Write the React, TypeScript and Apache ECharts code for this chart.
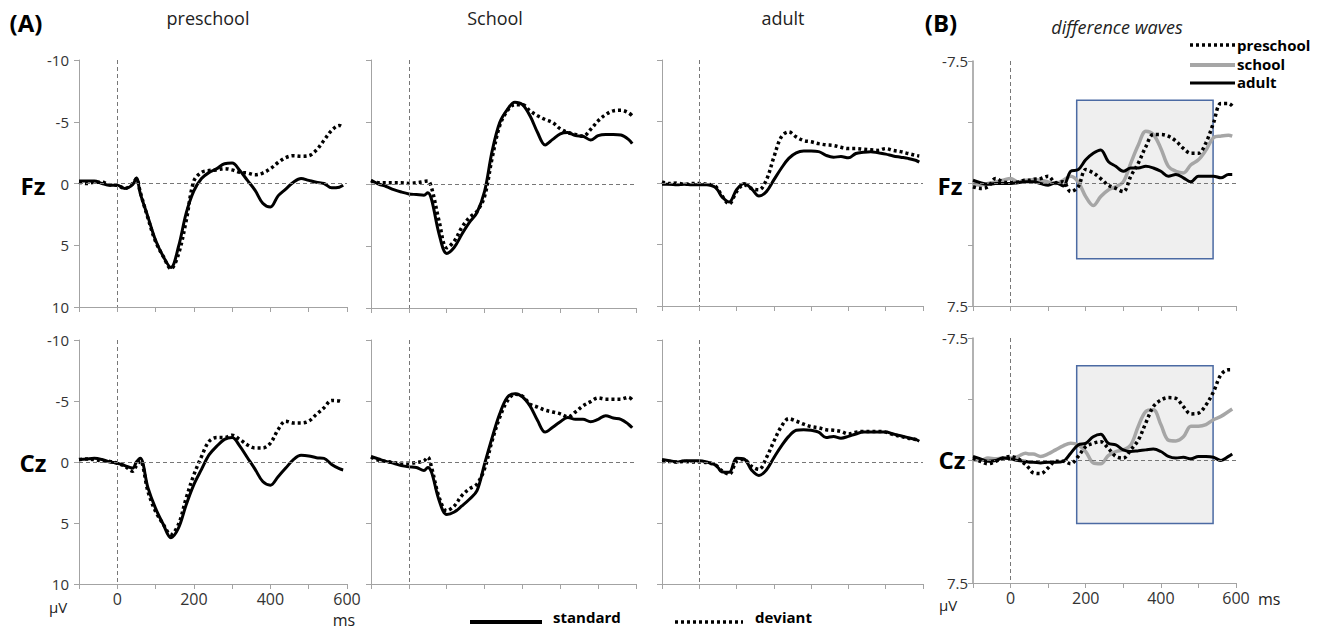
import React, { useEffect, useRef } from "react";
import * as echarts from "echarts";

// ---------- DATA (µV, negative plotted upward) ----------
const times = [-100, -80, -60, -40, -20, 0, 20, 40, 50, 60, 80, 100, 120, 140, 160, 180, 200, 220, 240, 260, 280, 300, 320, 340, 360, 380, 400, 420, 440, 460, 480, 500, 520, 540, 560, 580, 590];

const fzPreStd = [-0.2, -0.2, -0.2, 0.0, 0.15, 0.15, 0.4, 0.1, -0.45, 0.8, 2.7, 4.6, 5.9, 6.8, 5.1, 2.4, 0.6, -0.4, -0.9, -1.2, -1.6, -1.65, -1.05, -0.25, 0.55, 1.6, 1.9, 1.0, 0.45, -0.1, -0.4, -0.25, -0.1, 0, 0.35, 0.3, 0.15];
const fzPreDev = [-0.1, 0, -0.1, -0.1, 0.1, 0.15, 0.4, 0.0, -0.4, 0.7, 2.8, 4.7, 5.9, 6.9, 5.7, 3.0, -0.2, -0.9, -1.05, -1.1, -1.2, -1.1, -0.9, -0.85, -0.7, -0.85, -1.2, -1.7, -2.1, -2.25, -2.2, -2.25, -2.7, -3.5, -4.3, -4.7, -4.55];
const fzSchStd = [-0.3, 0, 0.2, 0.45, 0.65, 0.8, 0.85, 0.9, 0.7, 1.25, 4.05, 5.6, 5.1, 4.05, 3.1, 2.3, 0.6, -2.65, -4.95, -6.0, -6.6, -6.4, -5.5, -4.15, -3.15, -3.6, -4.05, -4.15, -3.9, -3.85, -3.55, -3.9, -4.0, -4.0, -3.95, -3.6, -3.25];
const fzSchDev = [-0.25, -0.1, -0.1, -0.1, -0.1, -0.05, -0.1, -0.2, -0.25, 0.3, 3.0, 5.15, 4.6, 3.5, 2.7, 2.2, 1.0, -2.1, -4.7, -5.9, -6.4, -6.4, -5.9, -5.5, -5.2, -4.95, -4.45, -4.15, -4.0, -3.85, -4.4, -5.1, -5.6, -5.9, -5.95, -5.75, -5.5];
const fzAduStd = [0.1, 0.1, 0.15, 0.1, 0.15, 0.15, 0.15, 0.3, 0.6, 1.1, 1.55, 0.55, 0.05, 0.45, 1.05, 0.7, -0.25, -1.2, -2.0, -2.45, -2.6, -2.6, -2.55, -2.25, -2.1, -2.15, -2.05, -2.4, -2.5, -2.55, -2.45, -2.35, -2.2, -2.1, -2.0, -1.85, -1.7];
const fzAduDev = [-0.1, 0.05, 0, 0.1, 0.05, 0.05, 0.1, 0.2, 0.5, 1.0, 1.7, 0.7, 0.15, 0.45, 0.55, -0.25, -2.1, -3.75, -4.15, -3.75, -3.45, -3.35, -3.2, -3.1, -3.05, -2.9, -2.8, -2.8, -2.75, -2.7, -2.65, -2.8, -2.65, -2.55, -2.4, -2.25, -2.2];
const fzDiffPre = [0.2, 0.3, 0.2, -0.3, -0.1, -0.05, -0.1, -0.2, -0.2, -0.25, -0.3, -0.45, -0.05, -0.1, 0.5, 0.2, -0.85, -0.65, -0.3, 0.1, 0.3, 0.5, -0.45, -1.25, -2.25, -3.0, -3.0, -2.9, -2.6, -2.15, -1.85, -1.85, -2.5, -3.7, -4.9, -4.9, -4.75];
const fzDiffSch = [0, 0.1, 0, -0.1, -0.2, -0.3, -0.1, -0.2, -0.2, -0.25, -0.2, -0.1, 0, -0.2, -0.45, -0.1, 0.8, 1.35, 0.8, 0.4, 0.2, -0.1, -1.25, -2.35, -3.2, -3.0, -2.15, -1.05, -0.75, -0.65, -1.15, -1.45, -2.05, -2.8, -2.9, -2.95, -2.9];
const fzDiffAdu = [-0.2, -0.05, 0.05, 0, 0, 0, -0.05, -0.1, -0.1, -0.1, 0, 0.1, -0.05, 0.15, -0.75, -0.85, -1.45, -1.85, -2.05, -1.35, -1.05, -0.75, -0.95, -0.95, -1.05, -0.95, -0.75, -0.45, -0.55, -0.35, -0.1, -0.45, -0.45, -0.45, -0.35, -0.55, -0.55];

const czPreStd = [-0.2, -0.25, -0.3, -0.2, 0, 0.1, 0.3, 0.5, 0.0, -0.3, 2.1, 3.8, 5.1, 6.2, 5.4, 3.5, 1.85, 0.6, -0.6, -1.3, -1.85, -2.0, -1.3, -0.35, 0.6, 1.6, 1.9, 1.2, 0.5, -0.2, -0.55, -0.5, -0.35, -0.3, 0.2, 0.55, 0.65];
const czPreDev = [-0.2, -0.25, -0.2, -0.1, -0.05, 0.1, 0.35, 0.75, 0.3, -0.1, 2.4, 4.05, 5.1, 5.95, 5.1, 2.95, 1.05, -0.45, -1.7, -2.0, -2.0, -2.2, -1.85, -1.4, -1.15, -1.15, -1.55, -2.65, -3.35, -3.2, -3.2, -3.35, -3.9, -4.45, -5.05, -5.0, -4.9];
const czSchStd = [-0.45, -0.25, -0.05, 0.1, 0.3, 0.4, 0.45, 0.7, 0.45, 0.85, 3.15, 4.3, 4.1, 3.6, 3.05, 2.35, 0.15, -2.0, -3.95, -5.3, -5.6, -5.35, -4.6, -3.4, -2.45, -2.85, -3.3, -3.65, -3.5, -3.5, -3.3, -3.5, -3.8, -3.6, -3.5, -3.1, -2.8];
const czSchDev = [-0.4, -0.15, -0.05, 0.05, 0.1, 0.1, 0.05, -0.1, -0.4, 0.45, 2.9, 4.0, 3.6, 2.75, 2.2, 1.8, 0.55, -1.75, -3.65, -5.0, -5.55, -5.4, -4.75, -4.5, -4.25, -4.1, -3.95, -3.7, -4.1, -4.6, -4.95, -5.25, -5.15, -5.15, -5.15, -5.3, -5.1];
const czAduStd = [-0.2, -0.1, 0, -0.1, -0.1, -0.1, 0, 0.2, 0.45, 0.8, 0.85, -0.3, -0.25, 0.65, 1.1, 0.65, -0.35, -1.3, -2.1, -2.6, -2.65, -2.6, -2.45, -2.0, -2.1, -1.95, -2.1, -2.3, -2.45, -2.45, -2.45, -2.45, -2.3, -2.15, -2.0, -1.85, -1.7];
const czAduDev = [-0.05, -0.05, 0, -0.05, 0, 0, 0.05, 0.2, 0.4, 0.7, 1.0, -0.05, -0.2, 0.35, 0.6, -0.35, -1.7, -2.9, -3.55, -3.35, -3.1, -2.9, -2.8, -2.65, -2.6, -2.5, -2.3, -2.45, -2.5, -2.5, -2.5, -2.45, -2.25, -2.1, -1.95, -1.85, -1.75];
const czDiffPre = [-0.15, 0.05, 0.2, 0.05, -0.15, -0.25, -0.1, 0.25, 0.5, 0.75, 0.8, 0.45, 0.05, 0.05, 0.2, -0.25, -0.85, -1.05, -1.15, -0.75, -0.25, -0.15, -0.65, -1.25, -2.3, -3.3, -3.7, -3.85, -3.8, -3.3, -2.85, -2.9, -3.4, -4.2, -5.25, -5.55, -5.55];
const czDiffSch = [-0.05, 0, -0.15, -0.1, -0.15, -0.15, -0.25, -0.45, -0.4, -0.4, -0.25, -0.4, -0.65, -0.9, -1.05, -0.95, -0.55, 0.15, 0.2, -0.3, -0.55, -0.65, -0.95, -2.1, -3.0, -3.1, -2.2, -1.25, -1.2, -1.45, -2.1, -2.1, -2.2, -2.5, -2.7, -3.0, -3.15];
const czDiffAdu = [-0.25, -0.1, 0.05, 0, -0.15, -0.1, 0, 0.05, 0.1, 0.1, 0.15, 0.1, 0.1, 0.05, -0.45, -0.95, -1.05, -1.45, -1.6, -1.05, -0.95, -0.65, -0.55, -0.6, -0.65, -0.7, -0.55, -0.25, -0.15, -0.2, -0.1, -0.25, -0.25, -0.2, 0, -0.25, -0.4];

// analysis windows (ms, µV)
const fzWindowMs = [176, 539];
const fzWindowUv = [-5.1, 4.6];
const czWindowMs = [176, 539];
const czWindowUv = [-5.8, 3.85];

const groupTitles = ["preschool", "School", "adult"];
const electrodes = ["Fz", "Cz"];
const xTicksMs = [-100, 600, 100];
const erpRange = [-10, 10, 5];
const diffRange = [-7.5, 7.5, 3.75];

// ---------- LAYOUT / STYLE ----------
const FONT = "'Open Sans', 'DejaVu Sans', sans-serif";
const AXIS = "#a3a3a3";
const colLeft = [79, 371, 662, 973];
const colWidth = [268, 265, 261, 263];
const rowTop = [[60, 60, 60, 61], [340, 340, 340, 338]];
const rowHeight = [[247, 248, 246, 245], [244, 244, 244, 245]];

const pair = (arr: number[]) => times.map((t, i) => [t, arr[i]]);

const erpData = [
  [[fzPreStd, fzPreDev], [fzSchStd, fzSchDev], [fzAduStd, fzAduDev]],
  [[czPreStd, czPreDev], [czSchStd, czSchDev], [czAduStd, czAduDev]],
];
const diffData = [
  [fzDiffPre, fzDiffSch, fzDiffAdu],
  [czDiffPre, czDiffSch, czDiffAdu],
];
const windows = [
  [fzWindowMs, fzWindowUv],
  [czWindowMs, czWindowUv],
];

const DOT = [3, 3];

function buildOption() {
  const grid: any[] = [];
  const xAxis: any[] = [];
  const yAxis: any[] = [];
  const series: any[] = [];

  for (let r = 0; r < 2; r++) {
    for (let c = 0; c < 4; c++) {
      const i = r * 4 + c;
      const isDiff = c === 3;
      grid.push({ left: colLeft[c], top: rowTop[r][c], width: colWidth[c], height: rowHeight[r][c], containLabel: false });
      const showX = r === 1 && (c === 0 || c === 3);
      xAxis.push({
        gridIndex: i, type: "value", min: xTicksMs[0], max: xTicksMs[1], interval: xTicksMs[2],
        axisLine: { show: true, onZero: false, lineStyle: { color: AXIS, width: 1 } },
        axisTick: { show: true, length: 5, lineStyle: { color: AXIS } },
        splitLine: { show: false },
        axisLabel: {
          show: showX, showMinLabel: true, showMaxLabel: true,
          formatter: (v: number) => (v >= 0 && v % 200 === 0 ? String(v) : ""),
          fontSize: 16, color: "#333", fontFamily: FONT, margin: 7,
        },
      });
      const rng = isDiff ? diffRange : erpRange;
      yAxis.push({
        gridIndex: i, type: "value", inverse: true, min: rng[0], max: rng[1], interval: rng[2],
        axisLine: { show: true, onZero: false, lineStyle: { color: isDiff ? "#999" : AXIS, width: isDiff ? 1.5 : 1 } },
        axisTick: { show: true, length: 5, lineStyle: { color: AXIS } },
        splitLine: { show: false },
        axisLabel: {
          show: c === 0 || isDiff, showMinLabel: true, showMaxLabel: true,
          formatter: isDiff
            ? (v: number) => (Math.abs(Math.abs(v) - 7.5) < 1e-6 ? String(v) : "")
            : (v: number) => String(v),
          fontSize: 15, color: "#333", fontFamily: FONT, margin: isDiff ? 5 : 10,
        },
      });

      if (isDiff) {
        const [wx, wy] = windows[r];
        series.push({
          type: "line", xAxisIndex: i, yAxisIndex: i, data: [], z: 0, silent: true,
          markArea: {
            silent: true,
            itemStyle: { color: "#efefef", borderColor: "#4b6aa3", borderWidth: 1.5 },
            data: [[{ xAxis: wx[0], yAxis: wy[0] }, { xAxis: wx[1], yAxis: wy[1] }]],
          },
        });
      }
      series.push({
        type: "line", xAxisIndex: i, yAxisIndex: i, data: [], z: 1, silent: true,
        markLine: {
          silent: true, symbol: ["none", "none"], label: { show: false },
          lineStyle: { color: "#777", width: 1, type: [4, 3] },
          data: [{ yAxis: 0 }, { xAxis: 0 }],
        },
      });

      if (!isDiff) {
        const [std, dev] = erpData[r][c];
        series.push({
          name: "standard", type: "line", xAxisIndex: i, yAxisIndex: i, data: pair(std), z: 3,
          showSymbol: false, smooth: 0.35, lineStyle: { color: "#000", width: 3 },
        });
        series.push({
          name: "deviant", type: "line", xAxisIndex: i, yAxisIndex: i, data: pair(dev), z: 4,
          showSymbol: false, smooth: 0.35, lineStyle: { color: "#000", width: 3.5, type: DOT, cap: "butt" },
        });
      } else {
        const [pre, sch, adu] = diffData[r];
        series.push({
          name: "school", type: "line", xAxisIndex: i, yAxisIndex: i, data: pair(sch), z: 3,
          showSymbol: false, smooth: 0.35, lineStyle: { color: "#a6a6a6", width: 3.5 },
        });
        series.push({
          name: "adult", type: "line", xAxisIndex: i, yAxisIndex: i, data: pair(adu), z: 4,
          showSymbol: false, smooth: 0.35, lineStyle: { color: "#000", width: 3 },
        });
        series.push({
          name: "preschool", type: "line", xAxisIndex: i, yAxisIndex: i, data: pair(pre), z: 5,
          showSymbol: false, smooth: 0.35, lineStyle: { color: "#000", width: 3.5, type: DOT, cap: "butt" },
        });
      }
    }
  }

  const txt = (text: string, x: number, y: number, o: any = {}) => ({
    type: "text", x, y, silent: true,
    style: {
      text, fill: o.fill || "#222", fontFamily: FONT, fontSize: o.size || 16,
      fontWeight: o.weight || "normal", fontStyle: o.style || "normal",
      textAlign: o.align || "center", textVerticalAlign: "middle",
    },
  });
  const ln = (x1: number, x2: number, y: number, o: any = {}) => ({
    type: "line", silent: true,
    shape: { x1, y1: y, x2, y2: y },
    style: { stroke: o.color || "#000", lineWidth: o.width || 3, lineDash: o.dash || null },
  });

  const graphic: any[] = [
    txt("(A)", 26, 22, { size: 24, weight: "bold", fill: "#000" }),
    txt("(B)", 941, 22, { size: 24, weight: "bold", fill: "#000" }),
    txt(groupTitles[0], 208, 18, { size: 18 }),
    txt(groupTitles[1], 495, 18, { size: 18 }),
    txt(groupTitles[2], 783, 18, { size: 18 }),
    txt("difference waves", 1117, 27, { size: 18, style: "italic" }),
    txt(electrodes[0], 33, 185, { size: 24, weight: "bold", fill: "#000" }),
    txt(electrodes[1], 33, 462, { size: 24, weight: "bold", fill: "#000" }),
    txt(electrodes[0], 950, 185, { size: 24, weight: "bold", fill: "#000" }),
    txt(electrodes[1], 952, 459, { size: 24, weight: "bold", fill: "#000" }),
    txt("µV", 58, 607, { size: 15 }),
    txt("ms", 344, 620, { size: 16 }),
    txt("µV", 948, 605, { size: 15 }),
    txt("ms", 1258, 599, { size: 16, align: "left" }),
    // bottom legend
    ln(470, 542, 622, { width: 4 }),
    txt("standard", 553, 617, { size: 15, weight: "bold", align: "left", fill: "#000" }),
    ln(675, 743, 622, { width: 3.5, dash: DOT }),
    txt("deviant", 755, 617, { size: 15, weight: "bold", align: "left", fill: "#000" }),
    // difference legend
    ln(1190, 1235, 45, { width: 3.5, dash: DOT }),
    txt("preschool", 1237, 45, { size: 15, weight: "bold", align: "left", fill: "#000" }),
    ln(1190, 1235, 65, { width: 4, color: "#a6a6a6" }),
    txt("school", 1237, 64, { size: 15, weight: "bold", align: "left", fill: "#000" }),
    ln(1190, 1235, 83, { width: 3 }),
    txt("adult", 1237, 82, { size: 15, weight: "bold", align: "left", fill: "#000" }),
  ];

  return {
    animation: false,
    backgroundColor: "#fff",
    textStyle: { fontFamily: FONT },
    grid, xAxis, yAxis, series, graphic,
  };
}

export default function App() {
  const ref = useRef<HTMLDivElement>(null);
  useEffect(() => {
    if (!ref.current) return;
    const chart = echarts.init(ref.current, null, { renderer: "svg" });
    chart.setOption(buildOption() as any);
    return () => chart.dispose();
  }, []);
  return (
    <div
      ref={ref}
      style={{ position: "absolute", left: 0, top: 0, width: 1324, height: 630, background: "#fff" }}
    />
  );
}
